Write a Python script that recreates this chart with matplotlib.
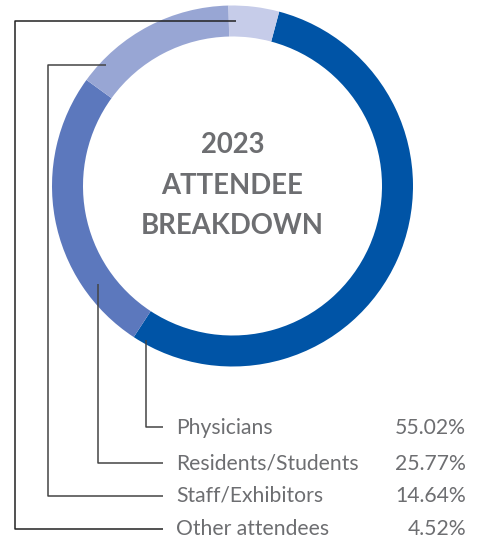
import matplotlib
matplotlib.use("Agg")
import matplotlib.pyplot as plt

categories = ["Physicians", "Residents/Students", "Staff/Exhibitors", "Other attendees"]
values = [55.02, 25.77, 14.64, 4.52]
pct_labels = ["55.02%", "25.77%", "14.64%", "4.52%"]
colors = ["#0054A6", "#5C78BD", "#98A6D4", "#C6CCE9"]
title_lines = ["2023", "ATTENDEE", "BREAKDOWN"]

W, H = 482, 544
fig = plt.figure(figsize=(W / 100, H / 100), dpi=100)
ax = fig.add_axes([0, 0, 1, 1])

def Y(y):
    return H - y

cx, cy, R, ring = 232.5, 186, 180.5, 31
ax.pie(values, colors=colors, startangle=75, counterclock=False,
       center=(cx, Y(cy)), radius=R,
       wedgeprops=dict(width=ring, linewidth=0))
ax.set_xlim(0, W)
ax.set_ylim(0, H)
ax.set_aspect("equal")
ax.axis("off")

# centre title
for txt, yy in zip(title_lines, [145, 186, 226]):
    ax.text(cx, Y(yy), txt, ha="center", va="center", family="Lato",
            fontweight="bold", fontsize=19.8, color="#6D6E71")

# leader lines (layout paths)
leaders = [
    [(146, 340), (146, 427), (163, 427)],
    [(98, 284), (98, 463), (163, 463)],
    [(106, 65), (48, 65), (48, 496), (163, 496)],
    [(236, 21), (15, 21), (15, 529), (163, 529)],
]
line_colors = ["#444444", "#444444", "#444444", "#222222"]
for path, lc in zip(leaders, line_colors):
    xs = [p[0] for p in path]
    ys = [Y(p[1]) for p in path]
    ax.plot(xs, ys, color=lc, lw=1.1, solid_capstyle="butt")

label_y = [428, 464, 496, 529]
for cat, pl, yy in zip(categories, pct_labels, label_y):
    ax.text(176, Y(yy), cat, ha="left", va="center", family="Lato",
            fontsize=15.2, color="#6D6E71")
    ax.text(466, Y(yy), pl, ha="right", va="center", family="Lato",
            fontsize=15.2, color="#6D6E71")

fig.savefig("out.png", dpi=100)
